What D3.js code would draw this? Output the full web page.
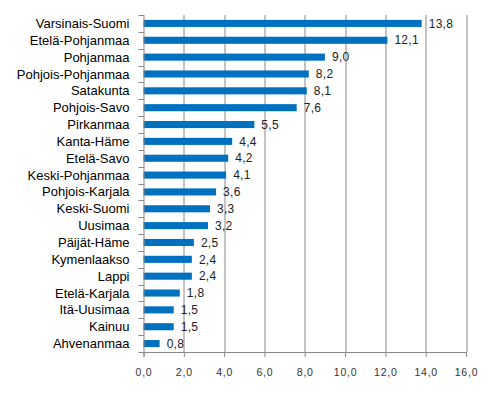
<!DOCTYPE html>
<html>
<head>
<meta charset="utf-8">
<script src="https://cdn.jsdelivr.net/npm/d3@7"></script>
<style>
body { margin: 0; background: #fff; }
text { font-family: "Liberation Sans", Arial, sans-serif; }
</style>
</head>
<body>
<div id="container"></div>
<script>
var regions = ["Varsinais-Suomi","Etelä-Pohjanmaa","Pohjanmaa","Pohjois-Pohjanmaa","Satakunta",
    "Pohjois-Savo","Pirkanmaa","Kanta-Häme","Etelä-Savo","Keski-Pohjanmaa","Pohjois-Karjala",
    "Keski-Suomi","Uusimaa","Päijät-Häme","Kymenlaakso","Lappi","Etelä-Karjala","Itä-Uusimaa",
    "Kainuu","Ahvenanmaa"]
var values = [13.8,12.1,9.0,8.2,8.1,7.6,5.5,4.4,4.2,4.1,3.6,3.3,3.2,2.5,2.4,2.4,1.8,1.5,1.5,0.8]
var xTicks = [0,2,4,6,8,10,12,14,16]

var margin = {top: 15, right: 28, bottom: 44, left: 143.5},
    width = 494 - margin.left - margin.right,
    height = 396 - margin.top - margin.bottom;

var fmt = function(d) { return d3.format(".1f")(d).replace(".", ","); }

var svg = d3.select("#container")
    .append("svg")
        .attr("width", 494)
        .attr("height", 396)
    .append("g")
        .attr("transform", "translate(" + margin.left + "," + margin.top + ")");

var x = d3.scaleLinear().domain([0, 16]).range([0, width]);
var y = d3.scaleBand().domain(regions).range([0, height]).paddingInner(0.58).paddingOuter(0.29);
var yb = d3.scaleBand().domain(regions).range([0, height]);

// gridlines
svg.selectAll(".grid")
    .data(xTicks.slice(1))
    .enter().append("line")
    .attr("x1", function(d) { return Math.round(x(d)) + 0.5; })
    .attr("x2", function(d) { return Math.round(x(d)) + 0.5; })
    .attr("y1", 0)
    .attr("y2", height)
    .attr("stroke", "#888")
    .attr("stroke-width", 1);

// bars
svg.selectAll("rect")
    .data(values)
    .enter().append("rect")
    .attr("x", 0)
    .attr("y", function(d, i) { return y(regions[i]); })
    .attr("width", function(d) { return x(d); })
    .attr("height", y.bandwidth())
    .attr("fill", "#0070C0");

// value labels
svg.selectAll(".val")
    .data(values)
    .enter().append("text")
    .attr("x", function(d) { return x(d) + 7; })
    .attr("y", function(d, i) { return y(regions[i]) + y.bandwidth() / 2; })
    .attr("dy", "0.35em")
    .attr("font-size", 12)
    .attr("letter-spacing", "0.3px")
    .attr("fill", "#222")
    .text(fmt);

// left axis
var yAxis = svg.append("g");
yAxis.append("line")
    .attr("x1", 0.5).attr("x2", 0.5)
    .attr("y1", 0).attr("y2", height)
    .attr("stroke", "#888");
yAxis.selectAll(".tk")
    .data(regions.concat(["end"]))
    .enter().append("line")
    .attr("x1", -5).attr("x2", 0.5)
    .attr("y1", function(d, i) { return Math.round(i * yb.bandwidth()) + 0.5; })
    .attr("y2", function(d, i) { return Math.round(i * yb.bandwidth()) + 0.5; })
    .attr("stroke", "#888");
yAxis.selectAll(".lbl")
    .data(regions)
    .enter().append("text")
    .attr("x", -14)
    .attr("y", function(d) { return yb(d) + yb.bandwidth() / 2; })
    .attr("dy", "0.35em")
    .attr("text-anchor", "end")
    .attr("font-size", 13)
    .attr("fill", "#000")
    .text(function(d) { return d; });

// bottom axis
var xAxis = svg.append("g")
    .attr("transform", "translate(0," + height + ")")
    .call(d3.axisBottom(x).tickValues(xTicks).tickSize(5).tickFormat(fmt).tickPadding(12));
xAxis.select(".domain").attr("stroke", "#888");
xAxis.selectAll(".tick line").attr("stroke", "#888");
xAxis.selectAll(".tick text")
    .attr("font-size", 10.5)
    .attr("letter-spacing", "0.8px")
    .attr("fill", "#333")
    .style("font-family", "'Liberation Sans', Arial, sans-serif");
</script>
</body>
</html>
